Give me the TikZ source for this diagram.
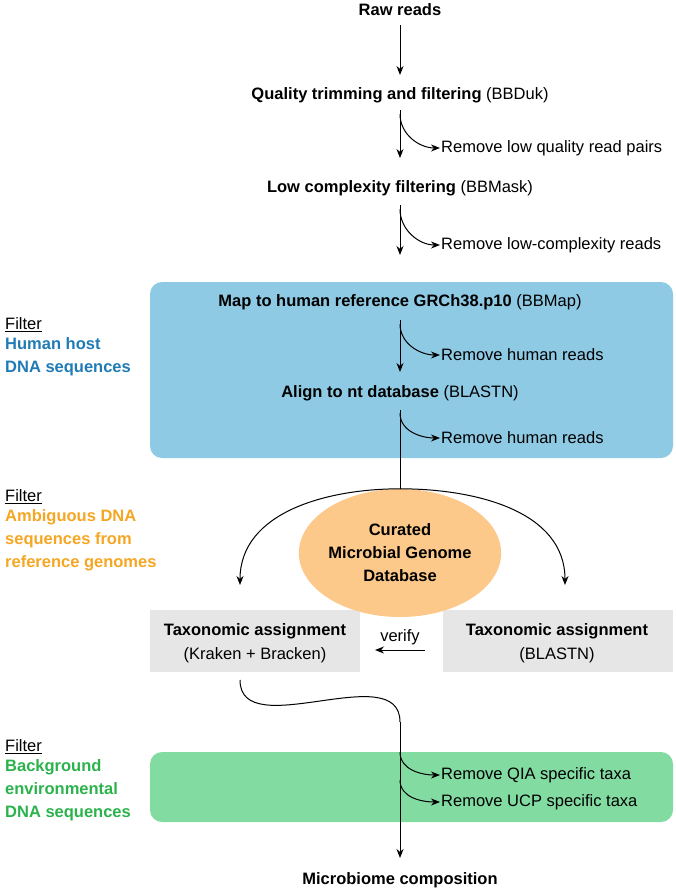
\documentclass[tikz,border=0pt]{standalone}
\usepackage{fontspec}
\setmainfont{Liberation Sans}
\usetikzlibrary{arrows.meta,shapes.geometric}
\definecolor{bluebox}{HTML}{8ECAE4}
\definecolor{greenbox}{HTML}{82DCA2}
\definecolor{orangeell}{HTML}{FCC98A}
\definecolor{graybox}{HTML}{E6E6E6}
\definecolor{bluetxt}{HTML}{1F7BB6}
\definecolor{orangetxt}{HTML}{F5A623}
\definecolor{greentxt}{HTML}{2BB24C}
\begin{document}
\begin{tikzpicture}[x=1pt,y=-1pt,
  every node/.style={font=\fontsize{16.5}{20}\selectfont},
  stp/.style={anchor=center,inner sep=1pt},
  rm/.style={anchor=west,inner sep=1pt},
  arr/.style={-{Stealth[length=9pt,width=7pt]},line width=1pt},
  ln/.style={line width=1pt},
  lab/.style={anchor=west,align=left,inner sep=1pt,font=\fontsize{16.5}{23}\selectfont\bfseries}]
\useasboundingbox (0,0) rectangle (675,891);
% boxes
\fill[bluebox,rounded corners=12pt] (150,282) rectangle (673,458);
\fill[greenbox,rounded corners=12pt] (150,752) rectangle (673,822);
\fill[graybox] (150,610) rectangle (360,672);
\fill[graybox] (443,610) rectangle (673,672);
\node[ellipse,fill=orangeell,minimum width=190pt,minimum height=128pt,inner sep=0pt,align=center,font=\fontsize{16.5}{23}\selectfont\bfseries] (db) at (400,553) {Curated\\Microbial Genome\\Database};
% steps
\node[stp] (raw) at (400,10) {\textbf{Raw reads}};
\node[stp] (qt) at (400,95) {\textbf{Quality trimming and filtering} (BBDuk)};
\node[stp] (lc) at (400,188) {\textbf{Low complexity filtering} (BBMask)};
\node[stp] (map) at (400,302) {\textbf{Map to human reference GRCh38.p10} (BBMap)};
\node[stp] (nt) at (400,393) {\textbf{Align to nt database} (BLASTN)};
\node[stp,align=center,font=\fontsize{16.5}{24}\selectfont] (tk) at (255,643) {\textbf{Taxonomic assignment}\\(Kraken + Bracken)};
\node[stp,align=center,font=\fontsize{16.5}{24}\selectfont] (tb) at (557,643) {\textbf{Taxonomic assignment}\\(BLASTN)};
\node[stp] (mc) at (400,880) {\textbf{Microbiome composition}};
\node[stp] (ver) at (400,637) {verify};
% remove labels
\node[rm] (r1) at (440,148) {Remove low quality read pairs};
\node[rm] (r2) at (440,245) {Remove low-complexity reads};
\node[rm] (r3) at (440,355) {Remove human reads};
\node[rm] (r4) at (440,438) {Remove human reads};
\node[rm] (r5) at (440,775) {Remove QIA specific taxa};
\node[rm] (r6) at (440,802) {Remove UCP specific taxa};
% main arrows
\draw[arr] (raw.south) ++(0,8) -- (400,75);
\draw[arr] (400,110) -- (400,158);
\draw[arr] (400,114) to[out=-90,in=180] (r1.west);
\draw[arr] (400,205) -- (400,255);
\draw[arr] (400,209) to[out=-90,in=180] (r2.west);
\draw[arr] (400,320) -- (400,372);
\draw[arr] (400,324) to[out=-90,in=180] (r3.west);
\draw[ln] (400,410) -- (db.north);
\draw[arr] (400,413) to[out=-90,in=180] (r4.west);
\coordinate (top) at (db.north);
\draw[arr] (top) to[out=180,in=90] (240,585);
\draw[arr] (top) to[out=0,in=90] (565,585);
\coordinate (vs) at (425,650);
\coordinate (ve) at (375,650);
\draw[arr] (vs) -- (ve);
\draw[ln] (240,680) to[out=-90,in=90] (400,722);
\draw[arr] (400,722) -- (400,858);
\draw[arr] (400,752) to[out=-90,in=180] (r5.west);
\draw[arr] (400,780) to[out=-90,in=180] (r6.west);
% left labels
\node[anchor=west,inner sep=1pt] (f1) at (4,325) {\underline{Filter}};
\node[lab,text=bluetxt,anchor=north west] (l1) at (4,336) {Human host\\DNA sequences};
\node[anchor=west,inner sep=1pt] (f2) at (4,497) {\underline{Filter}};
\node[lab,text=orangetxt,anchor=north west] (l2) at (4,508) {Ambiguous DNA\\sequences from\\reference genomes};
\node[anchor=west,inner sep=1pt] (f3) at (4,747) {\underline{Filter}};
\node[lab,text=greentxt,anchor=north west] (l3) at (4,758) {Background\\environmental\\DNA sequences};
\end{tikzpicture}
\end{document}
